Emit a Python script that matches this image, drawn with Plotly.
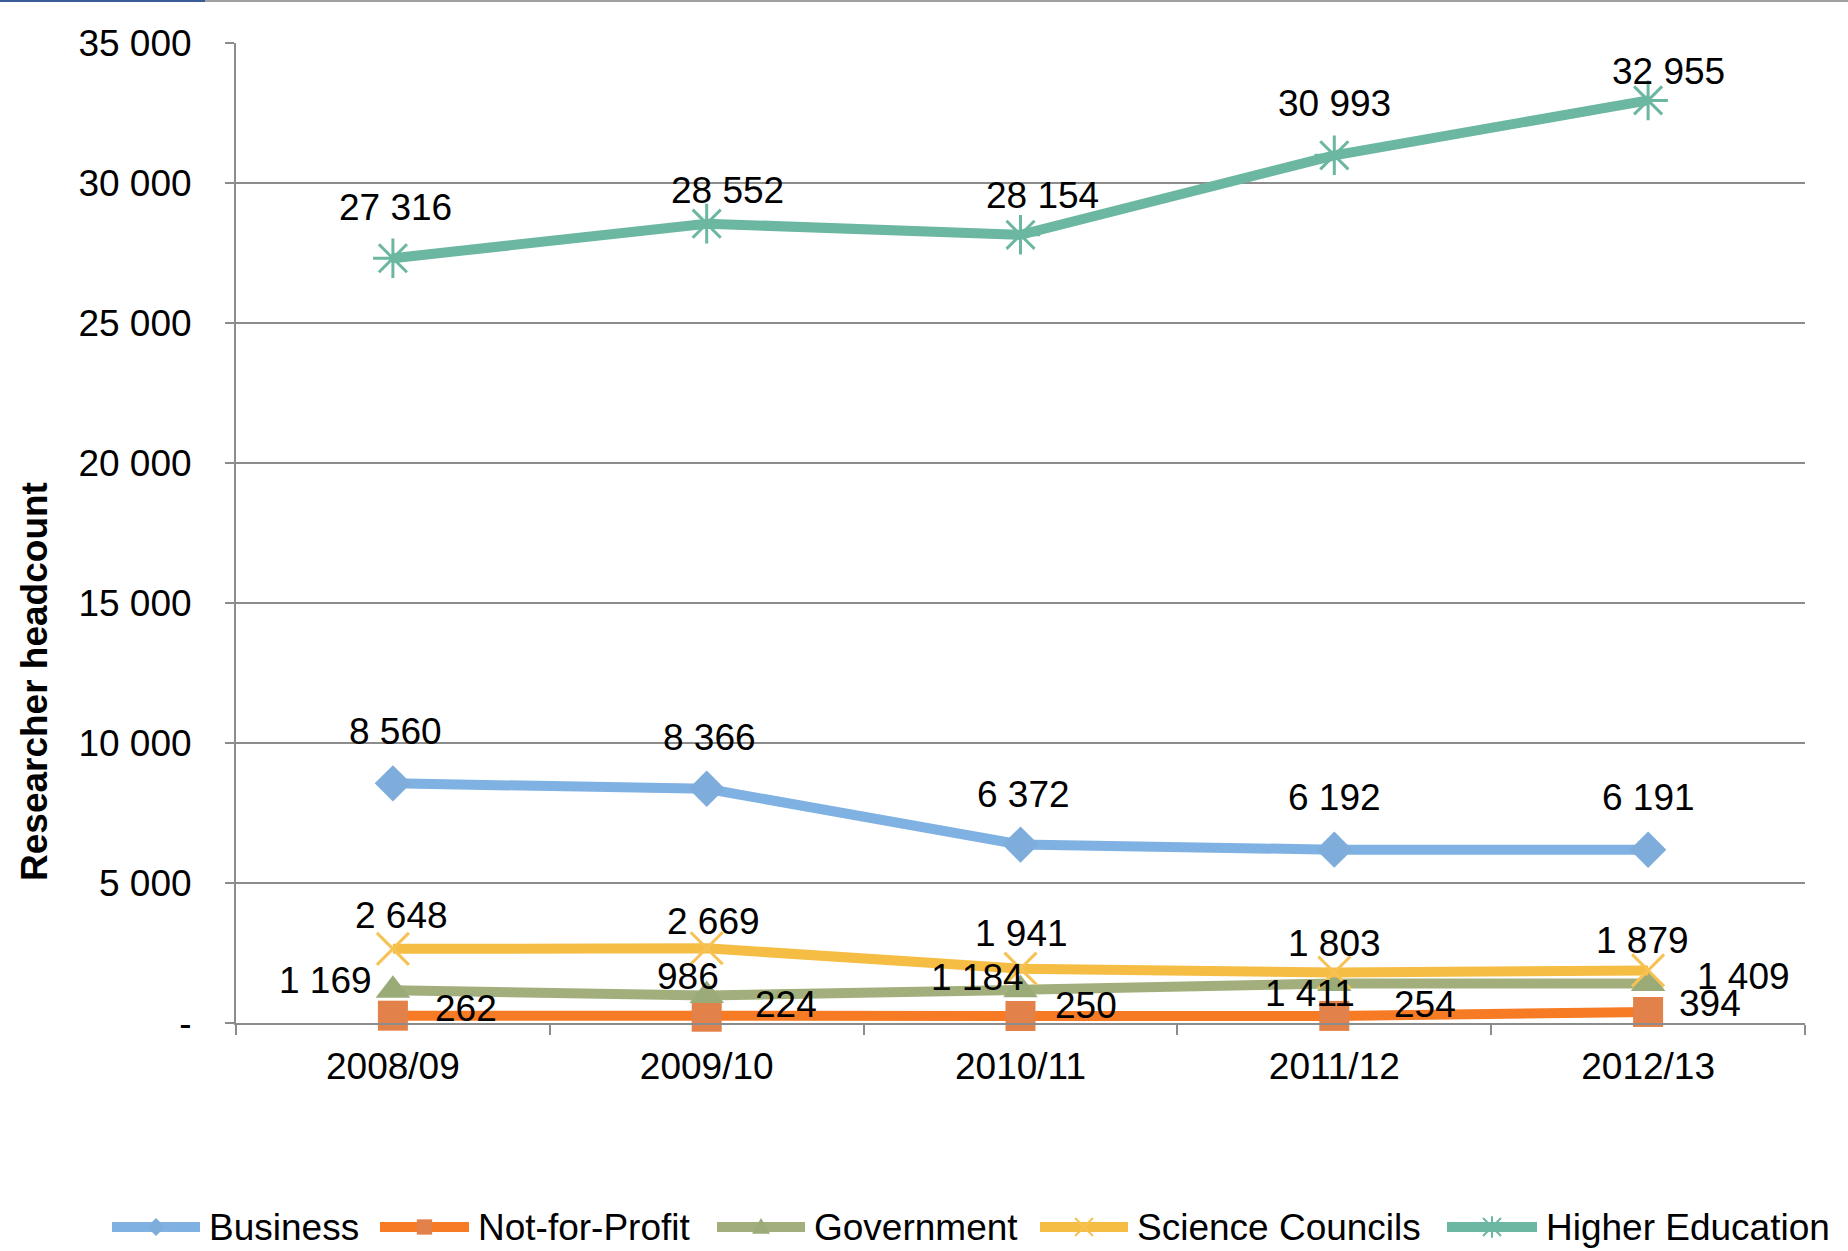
import plotly.graph_objects as go

# ---- data -------------------------------------------------------------
years = ["2008/09", "2009/10", "2010/11", "2011/12", "2012/13"]

business = [8560, 8366, 6372, 6192, 6191]
not_for_profit = [262, 224, 250, 254, 394]
government = [1169, 986, 1184, 1411, 1409]
science_councils = [2648, 2669, 1941, 1803, 1879]
higher_education = [27316, 28552, 28154, 30993, 32955]

y_tick_values = [0, 5000, 10000, 15000, 20000, 25000, 30000, 35000]
y_tick_labels = ["-", "5 000", "10 000", "15 000", "20 000", "25 000", "30 000", "35 000"]

series_names = ["Business", "Not-for-Profit", "Government", "Science Councils", "Higher Education"]

# ---- styling ----------------------------------------------------------
FONT = "Liberation Sans, Arial, sans-serif"
FS = 37
W, H = 1848, 1251
M_L, M_R, M_T, M_B = 236, 43, 43, 228
AXIS_GREY = "#8c8c8c"

styles = {
    "Business": dict(line="#7fb1e2", marker="#7eaddc", symbol="diamond", size=28, mline=0),
    "Not-for-Profit": dict(line="#f77b24", marker="#e2824a", symbol="square", size=30, mline=0),
    "Government": dict(line="#a2af7c", marker="#9aab78", symbol="triangle-up", size=30, mline=0),
    "Science Councils": dict(line="#f6bd44", marker="#f7c153", symbol="x-thin", size=32, mline=3),
    "Higher Education": dict(line="#6cb7a1", marker="#6cb7a1", symbol="asterisk", size=33, mline=3),
}

values = {
    "Business": business,
    "Not-for-Profit": not_for_profit,
    "Government": government,
    "Science Councils": science_councils,
    "Higher Education": higher_education,
}

# label offsets in screen pixels (dx right, dy up) for every point
label_offsets = {
    "Business": [(3, 52), (3, 51), (3, 50), (0, 52), (0, 52)],
    "Not-for-Profit": [(73, 7), (79, 12), (65, 11), (91, 11), (62, 8)],
    "Government": [(-67, 10), (-19, 19), (-43, 12), (-24, -10), (95, 7)],
    "Science Councils": [(9, 33), (7, 27), (1, 35), (0, 29), (-6, 30)],
    "Higher Education": [(3, 51), (21, 33), (22, 39), (0, 52), (20, 29)],
}


def fmt(v):
    return f"{v:,}".replace(",", " ")


def paper_x(px):
    return (px - M_L) / (W - M_L - M_R)


def paper_y(py):
    return (H - M_B - py) / (H - M_T - M_B)


def glyph_path(symbol, cx, cy, r):
    """SVG path (paper units) for a small legend glyph centred on pixel (cx, cy)."""
    def pt(dx, dy):
        return f"{paper_x(cx + dx):.6f},{paper_y(cy + dy):.6f}"
    if symbol == "diamond":
        return f"M{pt(0, -r)} L{pt(r, 0)} L{pt(0, r)} L{pt(-r, 0)} Z"
    if symbol == "square":
        s = r * 0.85
        return f"M{pt(-s, -s)} L{pt(s, -s)} L{pt(s, s)} L{pt(-s, s)} Z"
    if symbol == "triangle-up":
        return f"M{pt(0, -r)} L{pt(r, r * 0.75)} L{pt(-r, r * 0.75)} Z"
    if symbol == "x-thin":
        return f"M{pt(-r, -r)} L{pt(r, r)} M{pt(r, -r)} L{pt(-r, r)}"
    # asterisk
    return (f"M{pt(-r, -r)} L{pt(r, r)} M{pt(r, -r)} L{pt(-r, r)} "
            f"M{pt(0, -r * 1.2)} L{pt(0, r * 1.2)}")


fig = go.Figure()

for name in series_names:
    st = styles[name]
    fig.add_trace(go.Scatter(
        x=years, y=values[name], name=name, mode="lines+markers",
        line=dict(color=st["line"], width=10),
        marker=dict(symbol=st["symbol"], size=st["size"], color=st["marker"],
                    line=dict(color=st["marker"], width=st["mline"])),
        cliponaxis=False, showlegend=False,
    ))

annotations = []
for name in series_names:
    for i, (yr, v) in enumerate(zip(years, values[name])):
        dx, dy = label_offsets[name][i]
        annotations.append(dict(
            x=yr, y=v, xref="x", yref="y", text=fmt(v), showarrow=False,
            xshift=dx, yshift=dy, xanchor="center", yanchor="middle",
            font=dict(family=FONT, size=FS, color="black"),
        ))

# y axis title
annotations.append(dict(
    x=paper_x(35), y=paper_y(682), xref="paper", yref="paper",
    text="<b>Researcher headcount</b>", textangle=-90, showarrow=False,
    xanchor="center", yanchor="middle",
    font=dict(family=FONT, size=FS, color="black"),
))

# ---- custom legend along the bottom -------------------------------------
legend_y = 1227
legend_items = [
    ("Business", 112, 200, 207),
    ("Not-for-Profit", 380, 469, 476),
    ("Government", 717, 805, 812),
    ("Science Councils", 1040, 1128, 1135),
    ("Higher Education", 1447, 1537, 1544),
]
shapes = []
for name, x0, x1, tx in legend_items:
    st = styles[name]
    shapes.append(dict(
        type="line", xref="paper", yref="paper",
        x0=paper_x(x0), x1=paper_x(x1), y0=paper_y(legend_y), y1=paper_y(legend_y),
        line=dict(color=st["line"], width=10),
    ))
    cx = (x0 + x1) / 2
    open_glyph = st["mline"] > 0
    shapes.append(dict(
        type="path", xref="paper", yref="paper",
        path=glyph_path(st["symbol"], cx, legend_y, 9),
        fillcolor=None if open_glyph else st["marker"],
        line=dict(color=st["marker"], width=2 if open_glyph else 0),
    ))
    annotations.append(dict(
        x=paper_x(tx), y=paper_y(legend_y), xref="paper", yref="paper",
        text=name, showarrow=False, xanchor="left", yanchor="middle",
        font=dict(family=FONT, size=FS, color="black"),
    ))

# thin frame remnants along the top edge
shapes.append(dict(type="line", xref="paper", yref="paper",
                   x0=paper_x(0), x1=paper_x(W), y0=paper_y(1), y1=paper_y(1),
                   line=dict(color="#a0a0a0", width=2)))
shapes.append(dict(type="line", xref="paper", yref="paper",
                   x0=paper_x(0), x1=paper_x(205), y0=paper_y(1), y1=paper_y(1),
                   line=dict(color="#3a5a98", width=2)))

fig.update_layout(
    width=W, height=H,
    margin=dict(l=M_L, r=M_R, t=M_T, b=M_B, pad=0),
    paper_bgcolor="white", plot_bgcolor="white",
    font=dict(family=FONT, size=FS, color="black"),
    showlegend=False,
    xaxis=dict(
        type="category", range=[-0.5, 4.5], showgrid=False, zeroline=False,
        showline=True, linecolor=AXIS_GREY, linewidth=2,
        ticks="outside", tickson="boundaries", ticklen=10, tickwidth=2, tickcolor=AXIS_GREY,
        tickfont=dict(family=FONT, size=FS, color="black"), ticklabelstandoff=10,
    ),
    yaxis=dict(
        range=[0, 35005], tickmode="array", tickvals=y_tick_values, ticktext=y_tick_labels,
        showgrid=True, gridcolor=AXIS_GREY, gridwidth=2, zeroline=False,
        showline=True, linecolor=AXIS_GREY, linewidth=2,
        ticks="outside", ticklen=9, tickwidth=2, tickcolor=AXIS_GREY,
        tickfont=dict(family=FONT, size=FS, color="black"), ticklabelstandoff=26,
    ),
    annotations=annotations,
    shapes=shapes,
)

fig.write_html("out.html")
